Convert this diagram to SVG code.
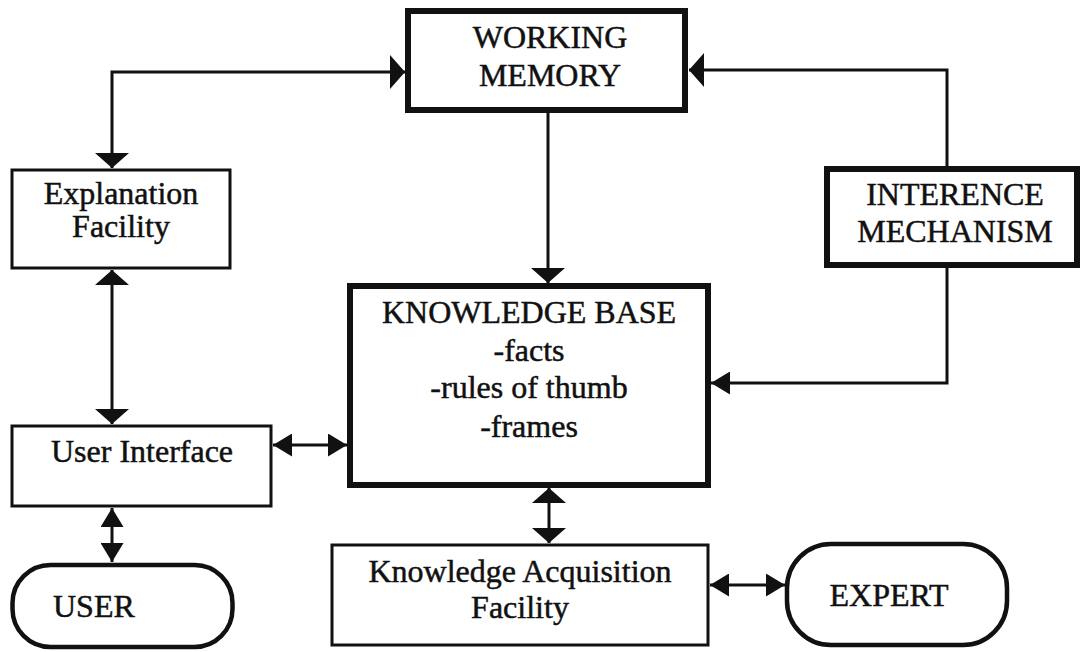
<svg xmlns="http://www.w3.org/2000/svg" width="1080" height="652" viewBox="0 0 1080 652">
  <style>
    text { font-family: "Liberation Serif", "Times New Roman", serif; font-size: 32px; fill: #111; stroke: #111; stroke-width: 0.5; }
    .c { text-anchor: middle; }
    .thick { fill: #fff; stroke: #111; stroke-width: 6; }
    .thin { fill: #fff; stroke: #111; stroke-width: 3; }
    .term { fill: #fff; stroke: #111; stroke-width: 4.5; }
    .link { fill: none; stroke: #111; stroke-width: 3; }
  </style>
  <defs>
    <!-- wide, flat head -->
    <marker id="head-big" markerUnits="userSpaceOnUse" markerWidth="15" markerHeight="34" refX="15" refY="17" orient="auto-start-reverse" viewBox="0 0 15 34">
      <path d="M0,0 L15,17 L0,34 Z" fill="#111"/>
    </marker>
    <!-- compact head -->
    <marker id="head-small" markerUnits="userSpaceOnUse" markerWidth="19" markerHeight="23" refX="19" refY="11.5" orient="auto-start-reverse" viewBox="0 0 19 23">
      <path d="M0,0 L19,11.5 L0,23 Z" fill="#111"/>
    </marker>
  </defs>
  <rect width="1080" height="652" fill="#fff"/>

  <g id="connectors">
    <path class="link" d="M405,72 L112,72 L112,168" marker-start="url(#head-big)" marker-end="url(#head-big)"/>
    <path class="link" d="M947,166 L947,70 L689,70" marker-end="url(#head-big)"/>
    <path class="link" d="M548,113 L548,283" stroke-width="2.5" marker-end="url(#head-big)"/>
    <path class="link" d="M947,268 L947,383 L711,383" marker-end="url(#head-small)"/>
    <path class="link" d="M112,270 L112,424" marker-start="url(#head-big)" marker-end="url(#head-big)"/>
    <path class="link" d="M273,445 L347,445" marker-start="url(#head-small)" marker-end="url(#head-small)"/>
    <path class="link" d="M112,508 L112,562" marker-start="url(#head-small)" marker-end="url(#head-small)"/>
    <path class="link" d="M549,488 L549,543" marker-start="url(#head-big)" marker-end="url(#head-big)"/>
    <path class="link" d="M710,585 L785,585" marker-start="url(#head-small)" marker-end="url(#head-small)"/>
  </g>

  <g id="working-memory">
    <rect class="thick" x="408" y="11" width="277" height="99"/>
    <text class="c" x="550" y="48">WORKING</text>
    <text class="c" x="550" y="86">MEMORY</text>
  </g>

  <g id="explanation-facility">
    <rect class="thin" x="12" y="170" width="218" height="98"/>
    <text class="c" x="121" y="204">Explanation</text>
    <text class="c" x="121" y="237">Facility</text>
  </g>

  <g id="inference-mechanism">
    <rect class="thick" x="827" y="169" width="250" height="96"/>
    <text class="c" x="955" y="205">INTERENCE</text>
    <text class="c" x="955" y="242">MECHANISM</text>
  </g>

  <g id="knowledge-base">
    <rect class="thick" x="350" y="286" width="358" height="199" stroke-width="5"/>
    <text class="c" x="529" y="323">KNOWLEDGE BASE</text>
    <text class="c" x="529" y="361">-facts</text>
    <text class="c" x="529" y="398">-rules of thumb</text>
    <text class="c" x="529" y="437">-frames</text>
  </g>

  <g id="user-interface">
    <rect class="thin" x="12" y="426" width="259" height="80"/>
    <text class="c" x="142" y="462">User Interface</text>
  </g>

  <g id="user">
    <rect class="term" x="12.5" y="565" width="220" height="82" rx="38" ry="38"/>
    <text x="53" y="617">USER</text>
  </g>

  <g id="knowledge-acquisition-facility">
    <rect class="thin" x="332" y="545" width="376" height="100"/>
    <text class="c" x="520" y="582">Knowledge Acquisition</text>
    <text class="c" x="520" y="618">Facility</text>
  </g>

  <g id="expert">
    <rect class="term" x="787" y="544" width="220" height="101" rx="44" ry="44"/>
    <text class="c" x="889" y="606">EXPERT</text>
  </g>
</svg>
